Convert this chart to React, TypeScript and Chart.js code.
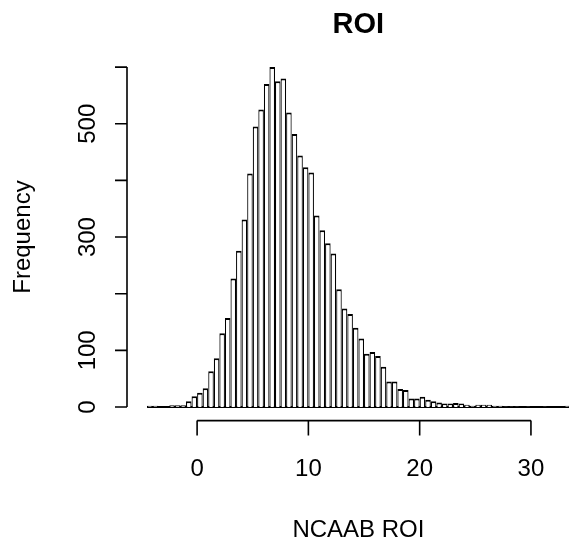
import React, { useEffect, useRef } from "react";
import { Chart, registerables } from "chart.js";

Chart.register(...registerables);

// Histogram bins (left edges, width 0.5) and counts
const binLefts = [
  -4.5, -4, -3.5, -3, -2.5, -2, -1.5, -1, -0.5, 0, 0.5, 1, 1.5, 2, 2.5, 3, 3.5, 4, 4.5,
  5, 5.5, 6, 6.5, 7, 7.5, 8, 8.5, 9, 9.5, 10, 10.5, 11, 11.5, 12, 12.5, 13, 13.5, 14,
  14.5, 15, 15.5, 16, 16.5, 17, 17.5, 18, 18.5, 19, 19.5, 20, 20.5, 21, 21.5, 22, 22.5,
  23, 23.5, 24, 24.5, 25, 25.5, 26, 26.5, 27, 27.5, 28, 28.5, 29, 29.5, 30, 30.5, 31,
  31.5, 32, 32.5, 33,
];
const counts = [
  2, 2, 0, 0, 3, 3, 3, 10, 19, 25, 33, 63, 86, 130, 157, 227, 276, 331, 412,
  495, 525, 570, 600, 575, 580, 520, 482, 444, 423, 414, 338, 312, 289, 271, 208, 174, 164, 140,
  121, 94, 97, 90, 71, 45, 45, 32, 30, 15, 15, 18, 13, 10, 8, 6, 6,
  7, 6, 4, 2, 4, 4, 4, 2, 2, 1, 1, 1, 0, 1, 0, 0, 1,
  0, 0, 0, 2,
];
const binWidth = 0.5;

const xTickValues = [0, 10, 20, 30];
const xTickLabels = ["0", "10", "20", "30"];
const yTickValues = [0, 100, 200, 300, 400, 500, 600];
const yTickLabels = ["0", "100", "", "300", "", "500", ""];

const titleText = "ROI";
const xTitle = "NCAAB ROI";
const yTitle = "Frequency";

const FONT = '"Liberation Sans", Arial, Helvetica, sans-serif';

const rAxesPlugin = {
  id: "rAxes",
  beforeDatasetsDraw(chart: any) {
    const ctx = chart.ctx;
    const xs = chart.scales.x;
    const ys = chart.scales.y;
    ctx.save();
    ctx.strokeStyle = "#000";
    ctx.lineWidth = 1.8;
    const y0 = ys.getPixelForValue(0);
    ctx.beginPath();
    ctx.moveTo(xs.getPixelForValue(binLefts[0]), y0);
    ctx.lineTo(xs.getPixelForValue(binLefts[binLefts.length - 1] + binWidth), y0);
    ctx.stroke();
    ctx.restore();
  },
  afterDraw(chart: any) {
    const ctx = chart.ctx;
    const xs = chart.scales.x;
    const ys = chart.scales.y;
    const area = chart.chartArea;
    ctx.save();
    ctx.strokeStyle = "#000";
    ctx.fillStyle = "#000";
    ctx.lineWidth = 1.6;

    // x axis
    const axY = area.bottom;
    ctx.beginPath();
    ctx.moveTo(xs.getPixelForValue(xTickValues[0]), axY);
    ctx.lineTo(xs.getPixelForValue(xTickValues[xTickValues.length - 1]), axY);
    xTickValues.forEach((v) => {
      const px = xs.getPixelForValue(v);
      ctx.moveTo(px, axY);
      ctx.lineTo(px, axY + 15);
    });
    ctx.stroke();
    ctx.font = `24px ${FONT}`;
    ctx.textAlign = "center";
    ctx.textBaseline = "alphabetic";
    xTickValues.forEach((v, i) => {
      ctx.fillText(xTickLabels[i], xs.getPixelForValue(v), 476);
    });

    // y axis
    const axX = area.left;
    ctx.beginPath();
    ctx.moveTo(axX, ys.getPixelForValue(yTickValues[0]));
    ctx.lineTo(axX, ys.getPixelForValue(yTickValues[yTickValues.length - 1]));
    yTickValues.forEach((v) => {
      const py = ys.getPixelForValue(v);
      ctx.moveTo(axX, py);
      ctx.lineTo(axX - 12, py);
    });
    ctx.stroke();
    yTickValues.forEach((v, i) => {
      if (!yTickLabels[i]) return;
      ctx.save();
      ctx.translate(95, ys.getPixelForValue(v));
      ctx.rotate(-Math.PI / 2);
      ctx.fillText(yTickLabels[i], 0, 0);
      ctx.restore();
    });

    // plot-region centre (R plot region extends past the right crop)
    const cx = 358.4;
    const cy = (area.top + area.bottom) / 2;

    // axis titles
    ctx.fillText(xTitle, cx, 536.5);
    ctx.save();
    ctx.translate(30, cy);
    ctx.rotate(-Math.PI / 2);
    ctx.fillText(yTitle, 0, 0);
    ctx.restore();

    // main title
    ctx.font = `bold 29px ${FONT}`;
    ctx.fillText(titleText, cx, 33);
    ctx.restore();
  },
};

export default function App() {
  const canvasRef = useRef<HTMLCanvasElement | null>(null);

  useEffect(() => {
    document.body.style.margin = "0";
    const canvas = canvasRef.current;
    if (!canvas) return;
    const data = binLefts.map((l, i) => ({ x: l + binWidth / 2, y: counts[i] }));
    const chart = new Chart(canvas, {
      type: "bar",
      data: {
        datasets: [
          {
            data,
            backgroundColor: "#ffffff",
            borderColor: "#000000",
            borderWidth: { top: 2, left: 1.2, right: 1.2, bottom: 0 },
            borderSkipped: false,
            barPercentage: 1,
            categoryPercentage: 1,
            inflateAmount: 0,
          } as any,
        ],
      },
      options: {
        responsive: false,
        animation: false,
        devicePixelRatio: 1,
        layout: { padding: { left: 127, right: 0, top: 53.5, bottom: 125.4 } },
        plugins: {
          legend: { display: false },
          tooltip: { enabled: false },
          title: { display: false },
        },
        scales: {
          x: { type: "linear", min: -6.3, max: 33.42, display: false, offset: false },
          y: { type: "linear", min: -24, max: 624, display: false },
        },
      },
      plugins: [rAxesPlugin],
    });
    return () => chart.destroy();
  }, []);

  return (
    <div style={{ width: 569, height: 546, background: "#fff" }}>
      <canvas ref={canvasRef} width={569} height={546} style={{ display: "block" }} />
    </div>
  );
}
